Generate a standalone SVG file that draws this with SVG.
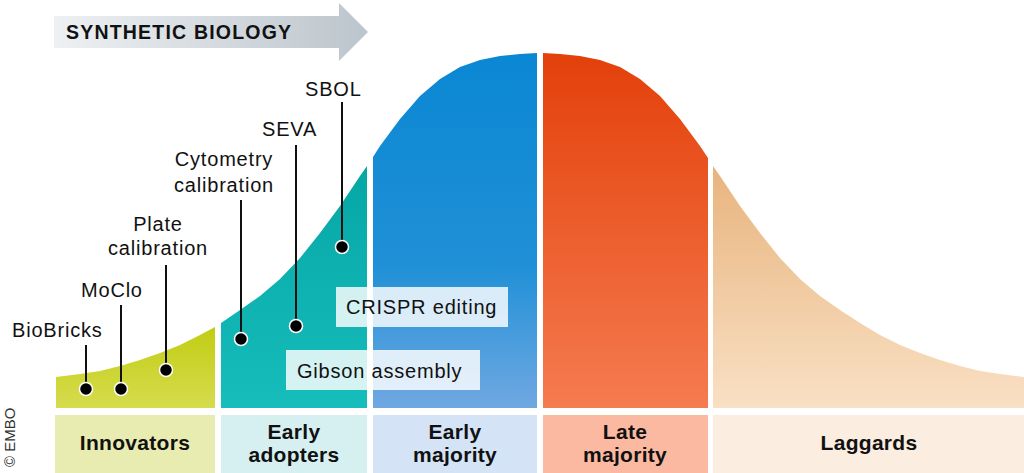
<svg xmlns="http://www.w3.org/2000/svg" width="1024" height="473" viewBox="0 0 1024 473">
<defs>
<linearGradient id="gArrow" x1="0" y1="0" x2="1" y2="0"><stop offset="0" stop-color="#eef1f3"/><stop offset="1" stop-color="#bcc5cc"/></linearGradient>
<linearGradient id="gGreen" x1="0" y1="0" x2="0" y2="1"><stop offset="0" stop-color="#c0cd12"/><stop offset="1" stop-color="#d6dc4e"/></linearGradient>
<linearGradient id="gTeal" x1="0" y1="0" x2="0" y2="1"><stop offset="0" stop-color="#06a7a5"/><stop offset="1" stop-color="#16bdbb"/></linearGradient>
<linearGradient id="gBlue" x1="0" y1="0" x2="0" y2="1"><stop offset="0" stop-color="#0a87d3"/><stop offset="0.6" stop-color="#2090d7"/><stop offset="1" stop-color="#70a8e2"/></linearGradient>
<linearGradient id="gOrange" x1="0" y1="0" x2="0" y2="1"><stop offset="0" stop-color="#e3400a"/><stop offset="1" stop-color="#f57b50"/></linearGradient>
<linearGradient id="gLag" x1="0" y1="0" x2="0" y2="1"><stop offset="0" stop-color="#e8b47e"/><stop offset="1" stop-color="#f9e0c4"/></linearGradient>
</defs>
<style>
.lbl{font-family:"Liberation Sans",Arial,sans-serif;font-size:20px;fill:#111;letter-spacing:0.8px}
.mid{text-anchor:middle}
.cat{font-family:"Liberation Sans",Arial,sans-serif;font-size:21px;font-weight:bold;fill:#111;text-anchor:middle;letter-spacing:0.3px}
.lead{stroke:#111;stroke-width:2;fill:none}
.dot{fill:#000;stroke:#fff;stroke-width:1.5}
.tag{fill:#fff;fill-opacity:0.82}
</style>
<rect width="1024" height="473" fill="#fff"/>

<g id="banner">
<polygon points="54,16 339,16 339,3 368,32 339,61 339,48 54,48" fill="url(#gArrow)"/>
<text x="66" y="39" font-family="'Liberation Sans',Arial,sans-serif" font-size="19.5" font-weight="bold" letter-spacing="1.2" fill="#111">SYNTHETIC BIOLOGY</text>
</g>

<g id="innovators">
<path d="M56,408 L56,377 L80,374 L100,371 L120,366 L140,360 L160,353 L180,345 L200,335 L215,327 L215,408 Z" fill="url(#gGreen)"/>
<rect x="55" y="415" width="160" height="58" fill="#e9ecb1"/>
<text class="cat" x="135" y="450">Innovators</text>
</g>

<g id="early-adopters">
<path d="M221,408 L221,323 L240,310 L260,296 L280,279 L300,258 L320,233 L340,206 L360,176 L367,166 L367,408 Z" fill="url(#gTeal)"/>
<rect x="221" y="415" width="146" height="58" fill="#d6f0f1"/>
<text class="cat" x="294" y="439">Early</text>
<text class="cat" x="294" y="462">adopters</text>
</g>

<g id="early-majority">
<path d="M373,408 L373,157 L380,146 L400,119 L420,96 L440,79 L460,67 L480,60 L500,56 L520,54 L537,53 L537,408 Z" fill="url(#gBlue)"/>
<rect x="373" y="415" width="164" height="58" fill="#d4e3f6"/>
<text class="cat" x="455" y="439">Early</text>
<text class="cat" x="455" y="462">majority</text>
</g>

<g id="late-majority">
<path d="M543,408 L543,53 L560,54 L580,56 L600,60 L620,67 L640,79 L660,96 L680,119 L700,146 L708,158 L708,408 Z" fill="url(#gOrange)"/>
<rect x="543" y="415" width="165" height="58" fill="#fcb9a1"/>
<text class="cat" x="625" y="439">Late</text>
<text class="cat" x="625" y="462">majority</text>
</g>

<g id="laggards">
<path d="M713,408 L713,166 L720,176 L740,206 L760,233 L780,258 L800,279 L820,296 L840,310 L860,323 L880,335 L900,345 L920,353 L940,360 L960,366 L980,371 L1000,374 L1024,377 L1024,408 Z" fill="url(#gLag)"/>
<rect x="713" y="415" width="311" height="58" fill="#fbede0"/>
<text class="cat" x="869" y="450">Laggards</text>
</g>

<g id="crispr">
<rect class="tag" x="336" y="287" width="172" height="40"/>
<text class="lbl" x="346" y="314">CRISPR editing</text>
</g>
<g id="gibson">
<rect class="tag" x="286" y="350" width="194" height="40"/>
<text class="lbl" x="297" y="378">Gibson assembly</text>
</g>

<g id="sbol"><text class="lbl" x="305" y="96">SBOL</text></g>
<g id="seva"><text class="lbl" x="262" y="136">SEVA</text></g>
<g id="cytometry"><text class="lbl mid" x="224" y="166">Cytometry</text><text class="lbl mid" x="224" y="192">calibration</text></g>
<g id="plate"><text class="lbl mid" x="158" y="231">Plate</text><text class="lbl mid" x="158" y="255">calibration</text></g>
<g id="moclo"><text class="lbl" x="81" y="297">MoClo</text></g>
<g id="biobricks"><text class="lbl" x="12" y="337">BioBricks</text></g>

<g id="connectors">
<line class="lead" x1="342" y1="102" x2="342" y2="247"/>
<line class="lead" x1="296" y1="145" x2="296" y2="326"/>
<line class="lead" x1="241" y1="200" x2="241" y2="339"/>
<line class="lead" x1="166" y1="265" x2="166" y2="370"/>
<line class="lead" x1="121" y1="305" x2="121" y2="389"/>
<line class="lead" x1="86" y1="345" x2="86" y2="389"/>
<circle class="dot" cx="342" cy="247" r="6.5"/>
<circle class="dot" cx="296" cy="326" r="6.5"/>
<circle class="dot" cx="241" cy="339" r="6.5"/>
<circle class="dot" cx="166" cy="370" r="6.5"/>
<circle class="dot" cx="121" cy="389" r="6.5"/>
<circle class="dot" cx="86" cy="389" r="6.5"/>
</g>

<text transform="translate(15,467) rotate(-90)" font-family="'Liberation Sans',Arial,sans-serif" font-size="15" fill="#333">© EMBO</text>
</svg>
